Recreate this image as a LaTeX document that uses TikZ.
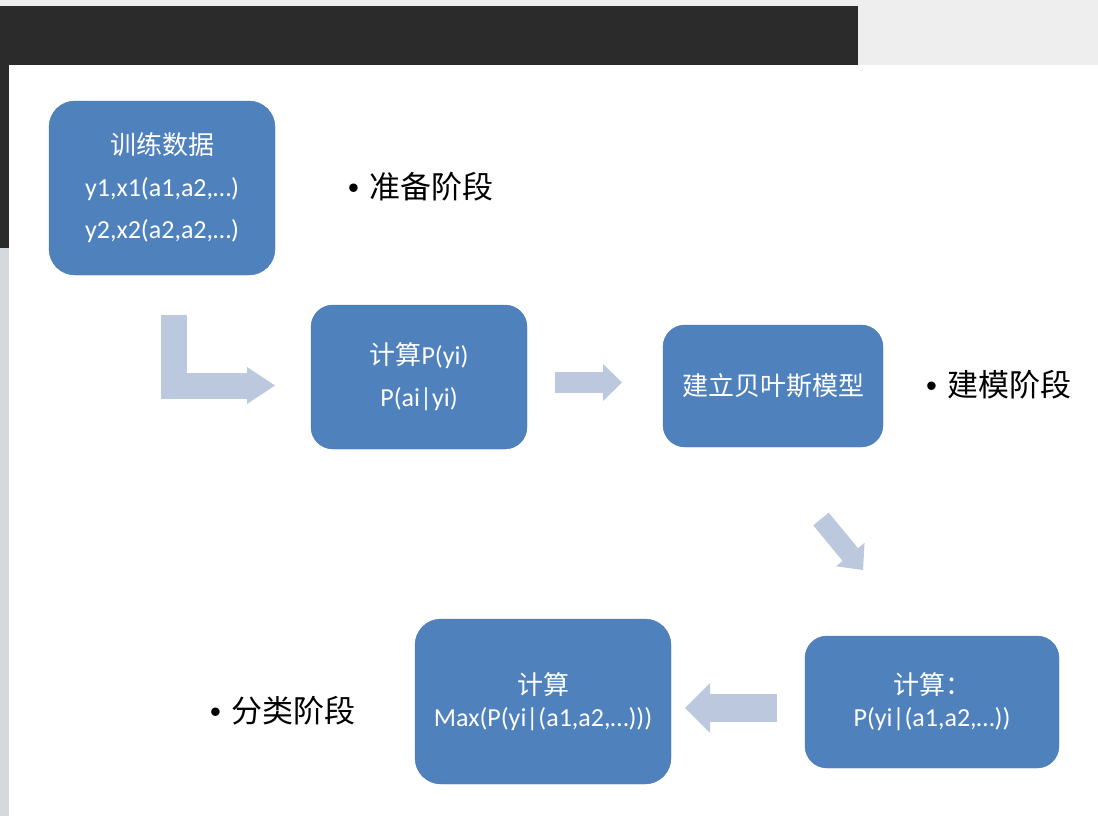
\documentclass[tikz,border=0pt]{standalone}
\usepackage{fontspec}
\setmainfont{Carlito}
\newfontfamily\cjk{Noto Sans CJK SC}
\newfontfamily\arial{Liberation Sans}
\usetikzlibrary{arrows.meta}
\definecolor{boxblue}{HTML}{4F81BD}
\definecolor{boxedge}{HTML}{4878B3}
\definecolor{arrowgray}{HTML}{BCC8DD}
\definecolor{bardark}{HTML}{2B2B2B}
\definecolor{pagegray}{HTML}{EEEEEE}
\definecolor{stripgray}{HTML}{D5D9DB}
\newcommand{\zh}[1]{{\cjk #1}}

\tikzstyle{block} = [draw=boxedge, fill=boxblue, rounded corners=22pt, text=white, align=center, inner sep=0pt, font=\fontsize{26}{42}\selectfont]
\tikzstyle{flow} = [draw=arrowgray, line join=miter]
\tikzstyle{phase} = [anchor=west, inner sep=0pt, font=\fontsize{31}{31}\selectfont]

\begin{document}
\begin{tikzpicture}[x=1pt,y=-1pt]
\useasboundingbox (0,0) rectangle (1098,816);
%background
\fill[pagegray] (0,0) rectangle (1098,816);
\fill[stripgray] (0,248) rectangle (9,816);% left strip
\fill[bardark] (0,6) rectangle (858,65);% title bar
\fill[bardark] (0,65) rectangle (9,248);
\fill[white] (9,65) rectangle (1098,816);% slide

%boxes
\node[block, minimum width=226pt, minimum height=174pt, rounded corners=26pt] (train) at (162,188) {\zh{训练数据}\\y1,x1(a1,a2,…)\\y2,x2(a2,a2,…)};
\node[block, minimum width=216pt, minimum height=144pt] (prob) at (419,377) {\zh{计算}P(yi)\\P(ai|yi)};
\node[block, minimum width=220pt, minimum height=122pt] (model) at (773,386) {\zh{建立贝叶斯模型}};
\node[block, minimum width=254pt, minimum height=132pt, font=\fontsize{26}{32}\selectfont] (post) at (932,702) {\zh{计算：}\\P(yi|(a1,a2,…))};
\node[block, minimum width=256pt, minimum height=165pt, rounded corners=26pt, font=\fontsize{26}{32}\selectfont] (maxp) at (543,701.5) {\zh{计算}\\Max(P(yi|(a1,a2,…)))};

%phases
\node[phase] (prep) at (348,187) {{\arial •}\hspace{10.5pt}\zh{准备阶段}};
\node[phase] (build) at (926,385) {{\arial •}\hspace{10.5pt}\zh{建模阶段}};
\node[phase] (classify) at (210,711) {{\arial •}\hspace{10.5pt}\zh{分类阶段}};

%arrows
\coordinate (f1a) at (173.5,315);
\coordinate (f1b) at (275,385.5);
\coordinate (f2a) at (555,382.5);
\coordinate (f2b) at (622,382.5);
\coordinate (f3a) at (821,519);
\coordinate (f3b) at (863,570);
\coordinate (f4a) at (777,708);
\coordinate (f4b) at (685,708);
\draw[flow, line width=26pt, -{Triangle[length=28pt,width=37pt,line width=0pt]}] (f1a) |- (f1b);% train to prob
\draw[flow, line width=21pt, -{Triangle[length=19pt,width=37pt,line width=0pt]}] (f2a) -- (f2b);% prob to model
\draw[flow, line width=20pt, -{Triangle[length=20pt,width=37pt,line width=0pt]}] (f3a) -- (f3b);% model to post
\draw[flow, line width=28pt, -{Triangle[length=25pt,width=50pt,line width=0pt]}] (f4a) -- (f4b);% post to maxp
\end{tikzpicture}
\end{document}
